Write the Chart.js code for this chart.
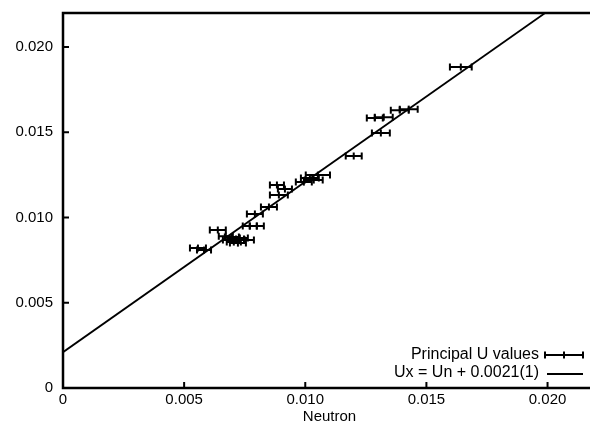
<!DOCTYPE html>
<html>
<head>
<meta charset="utf-8">
<script src="https://cdn.jsdelivr.net/npm/chart.js@4.4.1/dist/chart.umd.min.js"></script>
<style>
  html, body { margin: 0; padding: 0; background: #fff; overflow: hidden; }
  #chart { display: block; }
</style>
</head>
<body>
<canvas id="chart" width="600" height="424"></canvas>
<script>
// Principal U values: neutron (x), x-ray (y), neutron error (horizontal)
const neutronX = [0.01642, 0.01390, 0.01427, 0.01287, 0.01324, 0.01312, 0.01200,
  0.01052, 0.01019, 0.00994, 0.01035, 0.00883, 0.00916, 0.00891, 0.00850, 0.00792,
  0.00771, 0.00800, 0.00639, 0.00672, 0.00697, 0.00714, 0.00689, 0.00730, 0.00705,
  0.00751, 0.00722, 0.00557, 0.00582];
const principalY = [0.01883, 0.01630, 0.01636, 0.01584, 0.01589, 0.01496, 0.01361,
  0.01249, 0.01232, 0.01208, 0.01220, 0.01191, 0.01167, 0.01132, 0.01062, 0.01021,
  0.00950, 0.00950, 0.00927, 0.00891, 0.00886, 0.00874, 0.00868, 0.00880, 0.00856,
  0.00868, 0.00850, 0.00821, 0.00809];
const neutronErr = [0.00045, 0.00037, 0.00037, 0.00033, 0.00037, 0.00037, 0.00033,
  0.00050, 0.00037, 0.00033, 0.00037, 0.00029, 0.00029, 0.00037, 0.00033, 0.00033,
  0.00029, 0.00029, 0.00033, 0.00029, 0.00029, 0.00033, 0.00029, 0.00033, 0.00029,
  0.00037, 0.00033, 0.00033, 0.00029];

// Fit line Ux = Un + 0.0021
const fitX = [0, 0.022];
const fitY = [0.0021, 0.0241];

const tickValues = [0, 0.005, 0.010, 0.015, 0.020];
const tickLabels = ['0', '0.005', '0.010', '0.015', '0.020'];
const legendLabels = ['Principal U values', 'Ux = Un + 0.0021(1)'];

const FONT = '"Liberation Sans", Arial, Helvetica, sans-serif';

// error bars, frame, inward ticks and the legend
const extras = {
  id: 'extras',
  afterDatasetsDraw(chart) {
    const ctx = chart.ctx;
    const xs = chart.scales.x, ys = chart.scales.y;
    ctx.save();
    ctx.beginPath();
    ctx.rect(chart.chartArea.left, chart.chartArea.top,
      chart.chartArea.right - chart.chartArea.left, chart.chartArea.bottom - chart.chartArea.top);
    ctx.clip();
    ctx.strokeStyle = '#000';
    ctx.lineWidth = 2;
    neutronX.forEach((x, i) => {
      const py = ys.getPixelForValue(principalY[i]);
      const x1 = xs.getPixelForValue(x - neutronErr[i]);
      const x2 = xs.getPixelForValue(x + neutronErr[i]);
      ctx.beginPath();
      ctx.moveTo(x1, py); ctx.lineTo(x2, py);
      ctx.moveTo(x1, py - 3.5); ctx.lineTo(x1, py + 3.5);
      ctx.moveTo(x2, py - 3.5); ctx.lineTo(x2, py + 3.5);
      ctx.stroke();
    });
    ctx.restore();
  },
  afterDraw(chart) {
    const ctx = chart.ctx;
    const a = chart.chartArea;
    const xs = chart.scales.x, ys = chart.scales.y;
    ctx.save();
    ctx.strokeStyle = '#000';
    ctx.lineWidth = 2.5;
    ctx.beginPath();
    ctx.moveTo(a.right + 2, a.top); ctx.lineTo(a.left, a.top);
    ctx.lineTo(a.left, a.bottom); ctx.lineTo(a.right + 2, a.bottom);
    ctx.stroke();

    ctx.lineWidth = 2;
    ctx.beginPath();
    tickValues.forEach(v => {
      const px = xs.getPixelForValue(v);
      ctx.moveTo(px, a.bottom); ctx.lineTo(px, a.bottom - 6);
      const py = ys.getPixelForValue(v);
      ctx.moveTo(a.left, py); ctx.lineTo(a.left + 6, py);
    });
    ctx.stroke();

    // legend, bottom right inside the plot
    ctx.fillStyle = '#000';
    ctx.font = '16px ' + FONT;
    ctx.textAlign = 'right';
    ctx.textBaseline = 'middle';
    ctx.fillText(legendLabels[0], 539, 355);
    ctx.fillText(legendLabels[1], 539, 373);

    ctx.lineWidth = 2;
    ctx.beginPath();
    ctx.moveTo(545, 355); ctx.lineTo(583, 355);
    ctx.moveTo(545, 351.5); ctx.lineTo(545, 358.5);
    ctx.moveTo(583, 351.5); ctx.lineTo(583, 358.5);
    ctx.moveTo(564, 351.5); ctx.lineTo(564, 358.5);
    ctx.stroke();

    ctx.lineWidth = 1.8;
    ctx.beginPath();
    ctx.moveTo(547, 374); ctx.lineTo(583, 374);
    ctx.stroke();
    ctx.restore();
  }
};

function renderChart() {
  const ctx = document.getElementById('chart').getContext('2d');
  new Chart(ctx, {
    data: {
      datasets: [
        {
          type: 'scatter',
          label: legendLabels[0],
          data: neutronX.map((x, i) => ({ x: x, y: principalY[i] })),
          pointStyle: 'line',
          rotation: 90,
          pointRadius: 3.5,
          pointBorderWidth: 2,
          borderColor: '#000',
          backgroundColor: '#000',
          order: 1
        },
        {
          type: 'line',
          label: legendLabels[1],
          data: fitX.map((x, i) => ({ x: x, y: fitY[i] })),
          borderColor: '#000',
          borderWidth: 1.8,
          pointRadius: 0,
          fill: false,
          order: 2
        }
      ]
    },
    options: {
      responsive: false,
      animation: false,
      devicePixelRatio: 1,
      layout: { autoPadding: false, padding: { left: 0, top: 13, right: 4, bottom: 0 } },
      plugins: {
        legend: { display: false },
        tooltip: { enabled: false }
      },
      scales: {
        x: {
          type: 'linear',
          min: 0,
          max: 0.022,
          afterBuildTicks: (scale) => { scale.ticks = tickValues.map(v => ({ value: v })); },
          afterFit: (scale) => { scale.height = 36; scale.paddingLeft = 0; scale.paddingRight = 0; },
          grid: { display: false, drawTicks: false },
          border: { display: false },
          ticks: {
            color: '#000',
            font: { family: FONT, size: 15 },
            padding: 3,
            maxRotation: 0,
            callback: (v) => tickLabels[tickValues.indexOf(v)]
          },
          title: {
            display: true,
            text: 'Neutron',
            color: '#000',
            font: { family: FONT, size: 15, lineHeight: 1 },
            padding: 0
          }
        },
        y: {
          type: 'linear',
          min: 0,
          max: 0.022,
          afterBuildTicks: (scale) => { scale.ticks = tickValues.map(v => ({ value: v })); },
          afterFit: (scale) => { scale.width = 63; scale.paddingTop = 0; scale.paddingBottom = 0; },
          grid: { display: false, drawTicks: false },
          border: { display: false },
          ticks: {
            color: '#000',
            font: { family: FONT, size: 15 },
            padding: 10,
            callback: (v) => tickLabels[tickValues.indexOf(v)]
          }
        }
      }
    },
    plugins: [extras]
  });
}

renderChart();
</script>
</body>
</html>
